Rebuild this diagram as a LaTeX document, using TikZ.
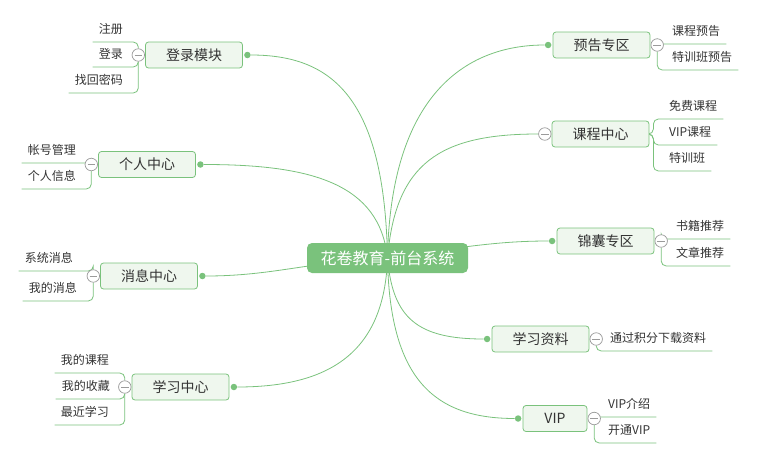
\documentclass[tikz,border=0pt]{standalone}
\usepackage{fontspec}
\newfontfamily\cjk{Noto Sans CJK SC}
\usetikzlibrary{positioning, calc, backgrounds}

\definecolor{mapgreen}{HTML}{7AC27C}
\definecolor{topicfill}{HTML}{EFF7EE}
\definecolor{foldgray}{HTML}{9B9B9B}
\definecolor{inkgray}{HTML}{333333}

\begin{document}
\begin{tikzpicture}[x=1pt, y=-1pt, every node/.style={font=\cjk},
    link/.style={draw=mapgreen, line width=0.8pt},
    root/.style={fill=mapgreen, text=white, rounded corners=5pt, minimum width=161pt, minimum height=30pt, inner sep=0pt, font={\cjk\fontsize{16pt}{18pt}\selectfont}},
    topic/.style={draw=mapgreen, fill=topicfill, text=inkgray, rounded corners=3pt, minimum width=97pt, minimum height=26pt, inner sep=0pt, line width=0.8pt, font={\cjk\fontsize{14pt}{16pt}\selectfont}},
    knob/.style={circle, fill=mapgreen, inner sep=0pt, minimum size=6.5pt},
    fold/.style={circle, draw=foldgray, fill=white, inner sep=0pt, minimum size=12.5pt, line width=0.7pt,
        path picture={\draw[foldgray, line width=0.9pt] ([xshift=-3.8pt]path picture bounding box.center) -- ([xshift=3.8pt]path picture bounding box.center);}},
    leaf/.style={text=inkgray, inner xsep=6pt, inner ysep=5pt, text height=9pt, text depth=3pt, font={\cjk\fontsize{12pt}{14pt}\selectfont}}]

    \useasboundingbox (0,0) rectangle (758,463);

    \node[root] (root) at (387.5,258) {花卷教育-前台系统};

    % left branches
    \node[topic] (login) at (194,55) {登录模块};
    \node[topic] (person) at (147,164.5) {个人中心};
    \node[topic] (msg) at (149,276) {消息中心};
    \node[topic] (study) at (180.5,387) {学习中心};

    % right branches
    \node[topic] (notice) at (601.5,45) {预告专区};
    \node[topic] (course) at (600.5,134) {课程中心};
    \node[topic] (tips) at (605.5,241) {锦囊专区};
    \node[topic] (files) at (540.5,339) {学习资料};
    \node[topic, minimum width=64pt] (vip) at (555,418.5) {VIP};

    \foreach \t in {login, person, msg, study} {
        \node[knob] (\t-k) at ([xshift=4.5pt]\t.east) {};
        \node[fold] (\t-f) at ([xshift=-6.8pt]\t.west) {};
    }
    \foreach \t in {notice, tips, files, vip} {
        \node[knob] (\t-k) at ([xshift=-4.5pt]\t.west) {};
        \node[fold] (\t-f) at ([xshift=6.8pt]\t.east) {};
    }
    \node[fold] (course-f) at ([xshift=-6.8pt]course.west) {};
    \coordinate (course-j) at ([xshift=4pt]course.east);

    % leaves, left side
    \foreach \p/\n/\t/\x/\y in {login/reg/注册/129/42, login/signin/登录/129/67, login/findpw/找回密码/129/93,
            person/acct/帐号管理/82/163, person/info/个人信息/82/189,
            msg/sysmsg/系统消息/79/271, msg/mymsg/我的消息/83/301,
            study/mycourse/我的课程/115/373, study/mycoll/我的收藏/116/399, study/recent/最近学习/115/425} {
        \node[leaf, anchor=south east] (\n) at (\x,\y) {\t};
        \begin{scope}[on background layer]
            \draw[link, rounded corners=5pt] (\n.south west) -- (\n.south west -| \p-f) -- (\p-f);
        \end{scope}
    }

    % leaves, right side
    \foreach \p/\n/\t/\x/\y in {notice/cpre/课程预告/666/44, notice/tpre/特训班预告/666/70,
            tips/book/书籍推荐/670/239, tips/article/文章推荐/670/266,
            files/points/通过积分下载资料/604/351,
            vip/vipinfo/VIP介绍/602/417, vip/vipopen/开通VIP/602/443} {
        \node[leaf, anchor=south west] (\n) at (\x,\y) {\t};
        \begin{scope}[on background layer]
            \draw[link, rounded corners=5pt] (\n.south east) -- (\n.south west -| \p-f) -- (\p-f);
        \end{scope}
    }
    \foreach \n/\t/\y in {free/免费课程/119, vipc/VIP课程/145, camp/特训班/171} {
        \node[leaf, anchor=south west] (\n) at (663,\y) {\t};
        \begin{scope}[on background layer]
            \draw[link, rounded corners=5pt] (\n.south east) -- (\n.south west -| course-j) -- (course-j) -- (course.east);
        \end{scope}
    }

    % curves from the root
    \begin{scope}[on background layer]
        \draw[link] (root.center) .. controls +(-3,-160) and +(85,0) .. (login-k);
        \draw[link] (root.center) .. controls +(-8,-75) and +(110,0) .. (person-k);
        \draw[link] (root.center) .. controls +(-80,4) and +(70,0) .. (msg-k);
        \draw[link] (root.center) .. controls +(-3,95) and +(95,0) .. (study-k);
        \draw[link] (root.center) .. controls +(3,-160) and +(-85,0) .. (notice-k);
        \draw[link] (root.center) .. controls +(8,-95) and +(-105,0) .. (course-f);
        \draw[link] (root.center) .. controls +(80,-12) and +(-50,0) .. (tips-k);
        \draw[link] (root.center) .. controls +(5,60) and +(-70,0) .. (files-k);
        \draw[link] (root.center) .. controls +(2,120) and +(-85,0) .. (vip-k);
    \end{scope}
\end{tikzpicture}
\end{document}
